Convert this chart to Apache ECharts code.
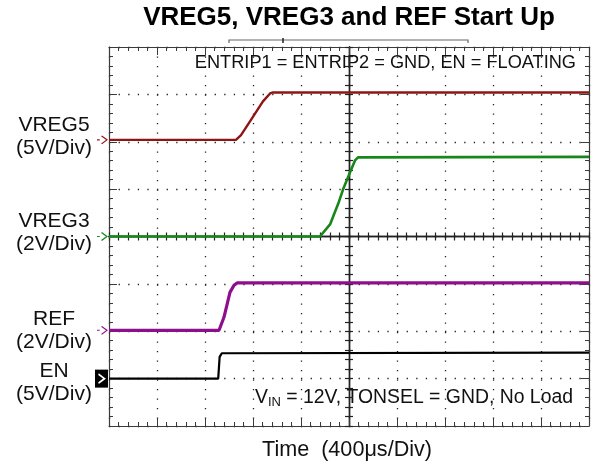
<!DOCTYPE html>
<html>
<head>
<meta charset="utf-8">
<style>
  html, body { margin: 0; padding: 0; background: #ffffff; }
  #chart { width: 597px; height: 468px; }
</style>
<script src="https://cdn.jsdelivr.net/npm/echarts@6/dist/echarts.min.js"></script>
</head>
<body>
<div id="chart"></div>
<script>
// ---- Data (time in microseconds, values in volts) ----
const channelNames = ['VREG5', 'VREG3', 'REF', 'EN'];
const channelScales = ['(5V/Div)', '(2V/Div)', '(2V/Div)', '(5V/Div)'];
const voltsPerDiv = [5, 2, 2, 5];
const groundDiv = [6.04, 4.0, 2.02, 1.0];
const channelColors = ['#8f1414', '#16881a', '#8e0f8e', '#000000'];

const vreg5Time = [0, 1058, 1100, 1175, 1283, 1342, 1367, 4000];
const vreg5Volt = [0, 0, 0.5, 1.95, 4.06, 4.9, 5.0, 5.0];

const vreg3Time = [0, 1758, 1842, 1917, 1950, 2008, 2050, 2075, 4000];
const vreg3Volt = [0, 0, 0.51, 1.48, 1.98, 2.70, 3.21, 3.34, 3.36];

const refTime = [0, 917, 958, 1008, 1042, 1067, 4000];
const refVolt = [0, 0, 0.55, 1.6, 1.9, 2.0, 2.0];

const enTime = [0, 910, 922, 940, 4000];
const enVolt = [0, 0, 2.3, 2.68, 2.74];

const timePerDivUs = 400;
const timeDivs = 10;
const voltDivs = 8;

const titleText = 'VREG5, VREG3 and REF Start Up';
const xAxisTitle = 'Time  (400\u03bcs/Div)';
const noteTop = 'ENTRIP1 = ENTRIP2 = GND, EN = FLOATING';

// ---- Build ----
function trace(times, volts, ch) {
  return times.map((t, i) => [t, groundDiv[ch] + volts[i] / voltsPerDiv[ch]]);
}
const traces = [
  trace(vreg5Time, vreg5Volt, 0),
  trace(vreg3Time, vreg3Volt, 1),
  trace(refTime, refVolt, 2),
  trace(enTime, enVolt, 3)
];

const FONT = '"Liberation Sans", Arial, sans-serif';
const borderColor = '#3a3a3a';
const tMax = timePerDivUs * timeDivs;

const chevron = 'path://M0,0 L8,5 L0,10';
const dashChevron = 'path://M0,5 L3,5 M5,1 L11,5 L5,9';

function groundMarker(ch) {
  if (ch === 3) {
    return [
      { coord: [0, groundDiv[ch]], symbol: 'rect', symbolSize: [13, 18], symbolOffset: [-7.5, 0],
        itemStyle: { color: '#000' } },
      { coord: [0, groundDiv[ch]], symbol: chevron, symbolSize: [6, 9], symbolOffset: [-7.5, 0],
        itemStyle: { color: 'rgba(0,0,0,0)', borderColor: '#fff', borderWidth: 1.6 } }
    ];
  }
  return [
    { coord: [0, groundDiv[ch]], symbol: dashChevron, symbolSize: [10, 8], symbolOffset: [-7, 0],
      itemStyle: { color: 'rgba(0,0,0,0)', borderColor: channelColors[ch], borderWidth: 1.2 } }
  ];
}

const lineWidths = [2.4, 2.6, 3.2, 2.2];
const series = [3, 2, 1, 0].map(ch => ({
  type: 'line',
  name: channelNames[ch],
  xAxisIndex: 0,
  yAxisIndex: 0,
  data: traces[ch],
  symbol: 'none',
  lineStyle: { color: channelColors[ch], width: lineWidths[ch] },
  z: 5,
  markPoint: {
    silent: true,
    label: { show: false },
    data: groundMarker(ch)
  }
}));

function borderAxis(extra) {
  return Object.assign({
    type: 'value',
    axisLine: { show: true, onZero: false, lineStyle: { color: borderColor, width: 1.2 } },
    axisTick: { show: true, inside: true, length: 8, lineStyle: { color: borderColor, width: 1 } },
    minorTick: { show: true, splitNumber: 5, length: 4, lineStyle: { color: borderColor, width: 1 } },
    axisLabel: { show: false },
    splitLine: { show: false }
  }, extra);
}
function centerAxis(extra, inside) {
  return Object.assign({
    type: 'value',
    axisLine: { show: true, onZero: true, lineStyle: { color: '#222', width: 1.4 } },
    axisTick: { show: true, inside: inside, length: 4, lineStyle: { color: '#222', width: 1.2 } },
    minorTick: { show: false },
    axisLabel: { show: false },
    splitLine: { show: false }
  }, extra);
}

const half = tMax / 2;
const option = {
  animation: false,
  backgroundColor: '#ffffff',
  grid: { left: 109, top: 47, right: 8, bottom: 42, containLabel: false },
  xAxis: [
    borderAxis({ min: 0, max: tMax, interval: timePerDivUs, position: 'bottom',
      splitLine: { show: true, lineStyle: { color: '#222', width: 1.3, type: [1.3, 8.2] } } }),
    borderAxis({ min: -half, max: half, interval: timePerDivUs, position: 'top' }),
    centerAxis({ min: -half, max: half, interval: timePerDivUs / 5, position: 'bottom' }, true),
    centerAxis({ min: -half, max: half, interval: timePerDivUs / 5, position: 'bottom' }, false)
  ],
  yAxis: [
    borderAxis({ min: 0, max: voltDivs, interval: 1, position: 'left',
      splitLine: { show: true, lineStyle: { color: '#222', width: 1.3, type: [1.3, 8.3] } } }),
    borderAxis({ min: -voltDivs / 2, max: voltDivs / 2, interval: 1, position: 'right' }),
    centerAxis({ min: -voltDivs / 2, max: voltDivs / 2, interval: 0.2, position: 'left' }, true),
    centerAxis({ min: -voltDivs / 2, max: voltDivs / 2, interval: 0.2, position: 'left' }, false)
  ],
  series: series,
  graphic: []
};
option.xAxis[2].axisLine.onZeroAxisIndex = 1;
option.xAxis[3].axisLine.onZeroAxisIndex = 1;
option.yAxis[2].axisLine.onZeroAxisIndex = 1;
option.yAxis[3].axisLine.onZeroAxisIndex = 1;

const labelCenters = [137, 233, 331, 383];
const g = [];
g.push({ type: 'text', silent: true, style: { text: titleText, x: 349, y: 18,
  font: 'bold 26px ' + FONT, fill: '#000', textAlign: 'center', textVerticalAlign: 'middle' } });
channelNames.forEach((n, i) => {
  g.push({ type: 'text', silent: true, style: { text: n + '\n' + channelScales[i], x: 54, y: labelCenters[i],
    font: '21px ' + FONT, lineHeight: 23, fill: '#111', textAlign: 'center', textVerticalAlign: 'middle' } });
});
g.push({ type: 'text', silent: true, style: { text: noteTop, x: 576, y: 63,
  font: '18.2px ' + FONT, fill: '#111', textAlign: 'right', textVerticalAlign: 'middle' } });
g.push({ type: 'text', silent: true, style: {
  text: '{v|V}{s|IN}{v| = 12V, TONSEL = GND, No Load}', x: 573, y: 398,
  textAlign: 'right', textVerticalAlign: 'middle', fill: '#111',
  rich: {
    v: { font: '19.4px ' + FONT, fill: '#111', lineHeight: 22 },
    s: { font: '13px ' + FONT, fill: '#111', lineHeight: 22, padding: [9, 0, 0, 0] }
  } } });
g.push({ type: 'text', silent: true, style: { text: xAxisTitle, x: 347, y: 450,
  font: '21.6px ' + FONT, fill: '#111', textAlign: 'center', textVerticalAlign: 'middle' } });
// oscilloscope record-window bracket
g.push({ type: 'polyline', silent: true, shape: { points: [[229, 43], [229, 40], [468, 40], [468, 43]] },
  style: { stroke: '#666', lineWidth: 1.2, fill: null } });
g.push({ type: 'line', silent: true, shape: { x1: 283, y1: 38, x2: 283, y2: 43 },
  style: { stroke: '#222', lineWidth: 1.5 } });
option.graphic = g;

const chart = echarts.init(document.getElementById('chart'), null, { renderer: 'canvas' });
chart.setOption(option);
</script>
</body>
</html>
